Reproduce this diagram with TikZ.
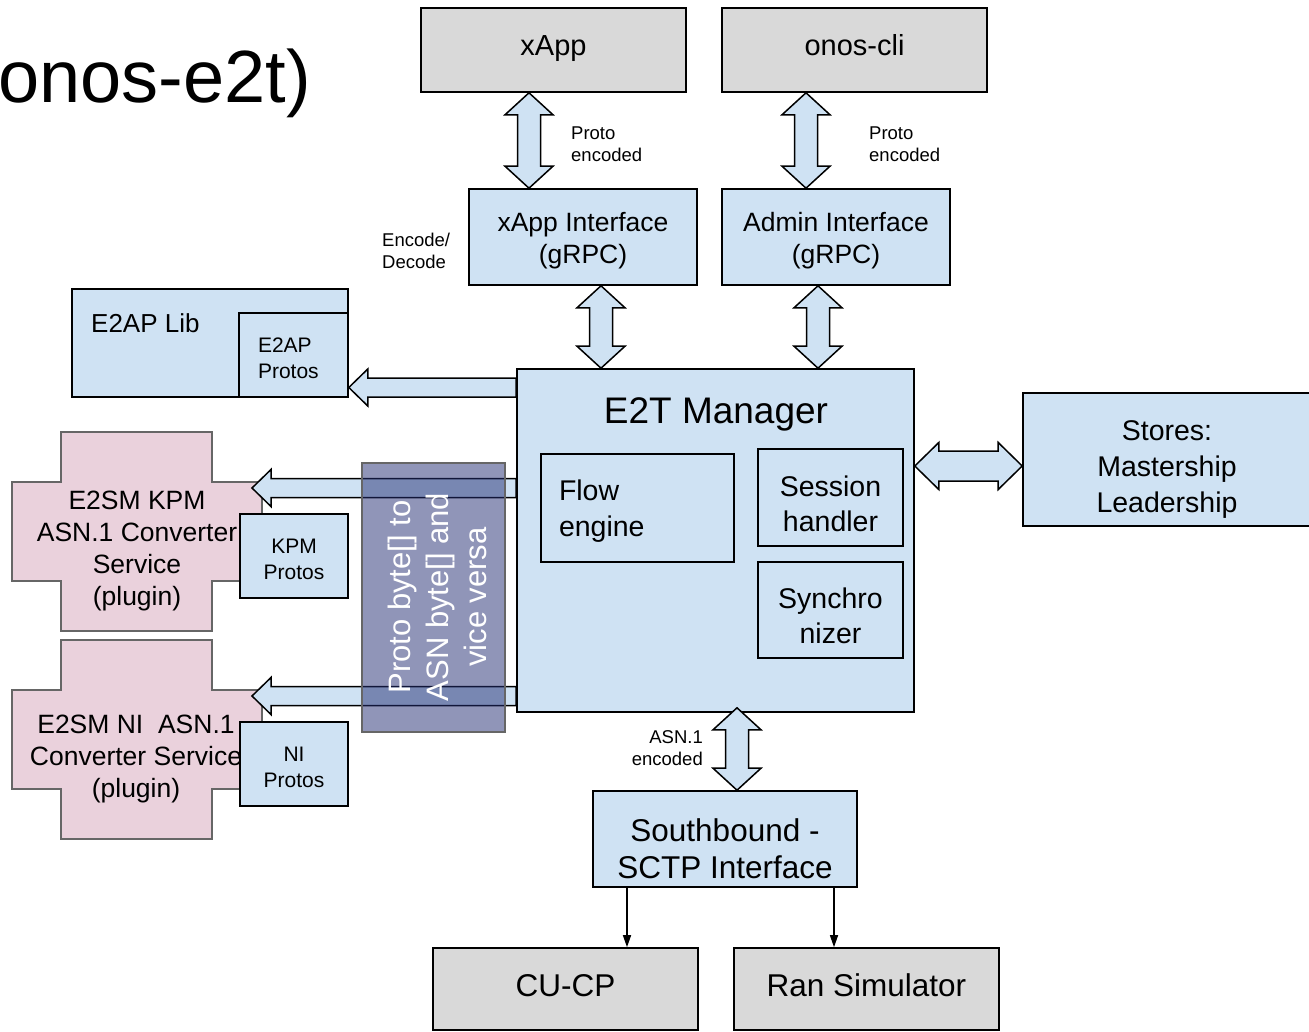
\documentclass[tikz,border=0pt]{standalone}
\usepackage{fontspec}
\setmainfont{Liberation Sans}
\usetikzlibrary{positioning,calc,arrows.meta}

\definecolor{boxblue}{HTML}{CFE2F3}
\definecolor{boxgray}{HTML}{D9D9D9}
\definecolor{boxpink}{HTML}{EAD1DC}
\definecolor{edgegray}{HTML}{666666}
\definecolor{overlayblue}{HTML}{232D73}

\tikzset{
  box/.style={draw=black, line width=1.6pt, inner sep=0pt, align=center},
  bluebox/.style={box, fill=boxblue},
  graybox/.style={box, fill=boxgray},
  blockarrow/.style={draw=black, fill=boxblue, line width=1.5pt, line join=miter},
  crossshape/.style={draw=edgegray, fill=boxpink, line width=1.6pt},
  smalltext/.style={font=\fontsize{18.5}{22}\selectfont, align=left, inner sep=0pt},
  boxtext/.style={align=center, inner sep=0pt},
  thinarrow/.style={line width=1.4pt, -{Triangle[length=12pt,width=8pt]}},
}

% vertical double block arrow, top tip to bottom tip
\newcommand{\vdblarrow}[2]{%
  \draw[blockarrow] let \p1=(#1), \p2=(#2) in
    (\x1,\y1) -- (\x1+24pt,\y1-22pt) -- (\x1+11.5pt,\y1-22pt) -- (\x1+11.5pt,\y2+22pt)
    -- (\x1+24pt,\y2+22pt) -- (\x1,\y2) -- (\x1-24pt,\y2+22pt) -- (\x1-11.5pt,\y2+22pt)
    -- (\x1-11.5pt,\y1-22pt) -- (\x1-24pt,\y1-22pt) -- cycle;}
% horizontal double block arrow, left tip to right tip
\newcommand{\hdblarrow}[2]{%
  \draw[blockarrow] let \p1=(#1), \p2=(#2) in
    (\x1,\y1) -- (\x1+24pt,\y1+23.5pt) -- (\x1+24pt,\y1+15pt) -- (\x2-24pt,\y1+15pt)
    -- (\x2-24pt,\y1+23.5pt) -- (\x2,\y1) -- (\x2-24pt,\y1-23.5pt) -- (\x2-24pt,\y1-15pt)
    -- (\x1+24pt,\y1-15pt) -- (\x1+24pt,\y1-23.5pt) -- cycle;}
% single block arrow pointing left, tail to tip
\newcommand{\lblockarrow}[2]{%
  \draw[blockarrow] let \p1=(#1), \p2=(#2) in
    (\x2,\y2) -- (\x2+19pt,\y2+18.5pt) -- (\x2+19pt,\y2+9.5pt) -- (\x1,\y2+9.5pt)
    -- (\x1,\y2-9.5pt) -- (\x2+19pt,\y2-9.5pt) -- (\x2+19pt,\y2-18.5pt) -- cycle;}

\begin{document}
\begin{tikzpicture}[x=1pt, y=-1pt]
    \fill[white] (0,0) rectangle (1309,1032);
    \useasboundingbox (0,0) rectangle (1309,1032);

    % Title
    \node[anchor=base east, inner sep=0pt, font=\fontsize{74}{88}\selectfont] (title) at (311,103) {onos-e2t)};

    % Clients
    \node[graybox, minimum width=265, minimum height=84, text height=21pt, text depth=10pt, font=\fontsize{29}{35}\selectfont] (xapp) at (553.5,50) {xApp};
    \node[graybox, minimum width=265, minimum height=84, text height=21pt, text depth=10pt, font=\fontsize{29}{35}\selectfont] (onoscli) at (854.5,50) {onos-cli};

    % Northbound interfaces
    \node[bluebox, minimum width=228, minimum height=96] (xappif) at (583,237) {};
    \node[boxtext, font=\fontsize{26.5}{32}\selectfont] (xappiftext) at (583,241) {xApp Interface\\(gRPC)};
    \node[bluebox, minimum width=228, minimum height=96] (adminif) at (836,237) {};
    \node[boxtext, font=\fontsize{26.5}{32}\selectfont] (adminiftext) at (836,241) {Admin Interface\\(gRPC)};

    \node[smalltext, anchor=west] (proto1) at (571,144) {Proto\\encoded};
    \node[smalltext, anchor=west] (proto2) at (869,144) {Proto\\encoded};
    \node[smalltext, anchor=west] (encdec) at (382,251) {Encode/\\Decode};

    % E2T Manager
    \node[bluebox, minimum width=397, minimum height=343] (e2t) at (715.5,540.5) {};
    \node[anchor=base, inner sep=0pt, font=\fontsize{37}{44}\selectfont] (e2ttitle) at (716,423) {E2T Manager};
    \node[bluebox, minimum width=193, minimum height=108] (flow) at (637.5,508) {};
    \node[text width=157pt, align=left, inner sep=0pt, font=\fontsize{28.5}{36}\selectfont] (flowtext) at (637.5,511) {Flow\\engine};
    \node[bluebox, minimum width=145, minimum height=97] (session) at (830.5,497.5) {};
    \node[boxtext, font=\fontsize{28.5}{35}\selectfont] (sessiontext) at (830.5,503.5) {Session\\handler};
    \node[bluebox, minimum width=145, minimum height=96] (synchro) at (830.5,610) {};
    \node[boxtext, font=\fontsize{28.5}{35}\selectfont] (synchrotext) at (830.5,615.5) {Synchro\\nizer};

    % Stores
    \node[bluebox, minimum width=288, minimum height=133] (stores) at (1167,459.5) {};
    \node[boxtext, font=\fontsize{28.5}{36}\selectfont] (storestext) at (1167,470) {Stores:\\Mastership\\Leadership};

    % E2AP library
    \node[bluebox, minimum width=276, minimum height=108] (e2aplib) at (210,343) {};
    \node[anchor=base west, inner sep=0pt, font=\fontsize{26}{31}\selectfont] (e2aplibtext) at (91,333) {E2AP Lib};
    \node[bluebox, minimum width=109, minimum height=84] (e2approtos) at (293.5,355) {};
    \node[text width=71pt, align=left, inner sep=0pt, font=\fontsize{21}{26}\selectfont] (e2approtostext) at (293.5,358) {E2AP\\Protos};

    % Service model plugins
    \foreach \cy in {432,640}
      \draw[crossshape] (61,\cy) -- (212,\cy) -- (212,\cy+50) -- (262,\cy+50) -- (262,\cy+149)
        -- (212,\cy+149) -- (212,\cy+199) -- (61,\cy+199) -- (61,\cy+149) -- (12,\cy+149)
        -- (12,\cy+50) -- (61,\cy+50) -- cycle;
    \node[boxtext, font=\fontsize{26.5}{32}\selectfont] (kpmtext) at (137,551) {E2SM KPM\\ASN.1 Converter\\Service\\(plugin)};
    \node[boxtext, font=\fontsize{26.5}{32}\selectfont] (nitext) at (136,759) {E2SM NI\ \ ASN.1\\Converter Service\\(plugin)};
    \node[bluebox, minimum width=108, minimum height=84] (kpmprotos) at (294,556) {};
    \node[boxtext, font=\fontsize{21}{26}\selectfont] (kpmprotostext) at (294,559) {KPM\\Protos};
    \node[bluebox, minimum width=108, minimum height=84] (niprotos) at (294,764) {};
    \node[boxtext, font=\fontsize{21}{26}\selectfont] (niprotostext) at (294,767) {NI\\Protos};

    % Southbound
    \node[bluebox, minimum width=264, minimum height=96] (southbound) at (725,839) {};
    \node[boxtext, font=\fontsize{31.5}{37}\selectfont] (southtext) at (725,849) {Southbound -\\SCTP Interface};
    \node[smalltext, anchor=east, align=right] (asnenc) at (703,748) {ASN.1\\encoded};

    % RAN side
    \node[graybox, minimum width=265, minimum height=82, text height=23pt, text depth=8.4pt, font=\fontsize{31.5}{37}\selectfont] (cucp) at (565.5,989) {CU-CP};
    \node[graybox, minimum width=265, minimum height=82, text height=23pt, text depth=8.4pt, font=\fontsize{31.5}{37}\selectfont] (ransim) at (866.5,989) {Ran Simulator};

    % Block arrows
    \vdblarrow{xapp.south -| 529,0}{xappif.north -| 529,0}
    \vdblarrow{onoscli.south -| 806,0}{adminif.north -| 806,0}
    \vdblarrow{xappif.south -| 601,0}{e2t.north -| 601,0}
    \vdblarrow{adminif.south -| 818,0}{e2t.north -| 818,0}
    \vdblarrow{$(e2t.south -| 737,0)+(0,-5)$}{southbound.north -| 737,0}
    \hdblarrow{e2t.east |- 0,466}{stores.west |- 0,466}
    \coordinate (kpmtip) at (252,488);
    \coordinate (nitip) at (252,696);
    \lblockarrow{e2t.west |- 0,387.5}{e2approtos.east |- 0,387.5}
    \lblockarrow{e2t.west |- 0,488}{kpmtip}
    \lblockarrow{e2t.west |- 0,696}{nitip}

    % Thin arrows
    \draw[thinarrow] (southbound.south -| 627,0) -- (cucp.north -| 627,0);
    \draw[thinarrow] (southbound.south -| 834,0) -- (ransim.north -| 834,0);

    % Translucent overlay
    \node[draw=edgegray, line width=1.6pt, fill=overlayblue, fill opacity=0.5, draw opacity=1, minimum width=143, minimum height=269] (overlay) at (433.5,597.5) {};
    \node[rotate=90, boxtext, text=white, font=\fontsize{31}{38}\selectfont] (overlaytext) at (437,597) {Proto byte[] to\\ASN byte[] and\\vice versa};
\end{tikzpicture}
\end{document}
